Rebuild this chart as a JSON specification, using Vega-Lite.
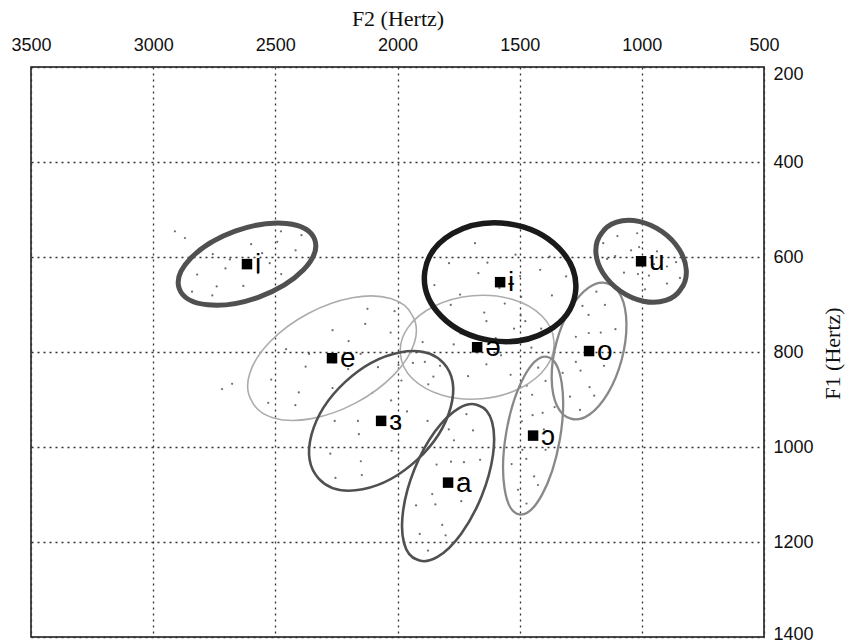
{
  "$schema": "https://vega.github.io/schema/vega-lite/v6.json",
  "width": 733,
  "height": 570,
  "autosize": "none",
  "padding": {"left": 31, "top": 67, "right": 83, "bottom": 7},
  "background": "white",
  "config": {"view": {"stroke": "#111", "strokeWidth": 1.5}},
  "datasets": {
    "tokens": [
      {"vowel":"i","F2":2611,"F1":622},{"vowel":"i","F2":2523,"F1":613},{"vowel":"i","F2":2704,"F1":624},{"vowel":"i","F2":2492,"F1":568},{"vowel":"i","F2":2740,"F1":662},{"vowel":"i","F2":2417,"F1":586},{"vowel":"i","F2":2820,"F1":637},{"vowel":"i","F2":2599,"F1":573},{"vowel":"i","F2":2631,"F1":661},{"vowel":"i","F2":2476,"F1":636},{"vowel":"i","F2":2756,"F1":594},{"vowel":"i","F2":2393,"F1":554},{"vowel":"i","F2":2841,"F1":673},{"vowel":"i","F2":2477,"F1":546},{"vowel":"i","F2":2758,"F1":681},{"vowel":"i","F2":2571,"F1":634},{"vowel":"i","F2":2686,"F1":605},{"vowel":"i","F2":2554,"F1":592},{"vowel":"i","F2":2911,"F1":546},{"vowel":"i","F2":2870,"F1":560},
      {"vowel":"ɨ","F2":1583,"F1":665},{"vowel":"ɨ","F2":1494,"F1":684},{"vowel":"ɨ","F2":1669,"F1":634},{"vowel":"ɨ","F2":1416,"F1":627},{"vowel":"ɨ","F2":1744,"F1":679},{"vowel":"ɨ","F2":1368,"F1":681},{"vowel":"ɨ","F2":1789,"F1":613},{"vowel":"ɨ","F2":1517,"F1":595},{"vowel":"ɨ","F2":1645,"F1":717},{"vowel":"ɨ","F2":1477,"F1":735},{"vowel":"ɨ","F2":1683,"F1":571},{"vowel":"ɨ","F2":1310,"F1":641},{"vowel":"ɨ","F2":1849,"F1":659},{"vowel":"ɨ","F2":1377,"F1":599},{"vowel":"ɨ","F2":1782,"F1":701},{"vowel":"ɨ","F2":1561,"F1":698},{"vowel":"ɨ","F2":1632,"F1":612},{"vowel":"ɨ","F2":1498,"F1":640},
      {"vowel":"u","F2":1011,"F1":615},{"vowel":"u","F2":971,"F1":639},{"vowel":"u","F2":1044,"F1":586},{"vowel":"u","F2":897,"F1":620},{"vowel":"u","F2":1109,"F1":598},{"vowel":"u","F2":897,"F1":656},{"vowel":"u","F2":1100,"F1":556},{"vowel":"u","F2":938,"F1":588},{"vowel":"u","F2":1073,"F1":633},{"vowel":"u","F2":987,"F1":668},{"vowel":"u","F2":1019,"F1":550},{"vowel":"u","F2":844,"F1":644},{"vowel":"u","F2":1158,"F1":571},{"vowel":"u","F2":860,"F1":611},{"vowel":"u","F2":1142,"F1":604},{"vowel":"u","F2":1016,"F1":636},{"vowel":"u","F2":1011,"F1":579},{"vowel":"u","F2":950,"F1":615},
      {"vowel":"ə","F2":1672,"F1":801},{"vowel":"ə","F2":1576,"F1":807},{"vowel":"ə","F2":1770,"F1":784},{"vowel":"ə","F2":1523,"F1":751},{"vowel":"ə","F2":1826,"F1":829},{"vowel":"ə","F2":1452,"F1":791},{"vowel":"ə","F2":1897,"F1":779},{"vowel":"ə","F2":1636,"F1":735},{"vowel":"ə","F2":1711,"F1":851},{"vowel":"ə","F2":1537,"F1":848},{"vowel":"ə","F2":1811,"F1":732},{"vowel":"ə","F2":1412,"F1":751},{"vowel":"ə","F2":1937,"F1":823},{"vowel":"ə","F2":1496,"F1":723},{"vowel":"ə","F2":1853,"F1":852},{"vowel":"ə","F2":1636,"F1":826},{"vowel":"ə","F2":1742,"F1":761},{"vowel":"ə","F2":1598,"F1":771},
      {"vowel":"o","F2":1203,"F1":800},{"vowel":"o","F2":1168,"F1":759},{"vowel":"o","F2":1251,"F1":839},{"vowel":"o","F2":1218,"F1":722},{"vowel":"o","F2":1214,"F1":874},{"vowel":"o","F2":1151,"F1":701},{"vowel":"o","F2":1294,"F1":894},{"vowel":"o","F2":1270,"F1":768},{"vowel":"o","F2":1155,"F1":829},{"vowel":"o","F2":1108,"F1":752},{"vowel":"o","F2":1324,"F1":844},{"vowel":"o","F2":1186,"F1":673},{"vowel":"o","F2":1253,"F1":922},{"vowel":"o","F2":1243,"F1":703},{"vowel":"o","F2":1195,"F1":892},{"vowel":"o","F2":1163,"F1":790},{"vowel":"o","F2":1270,"F1":821},{"vowel":"o","F2":1217,"F1":760},
      {"vowel":"e","F2":2259,"F1":822},{"vowel":"e","F2":2151,"F1":804},{"vowel":"e","F2":2376,"F1":831},{"vowel":"e","F2":2132,"F1":741},{"vowel":"e","F2":2404,"F1":885},{"vowel":"e","F2":2028,"F1":759},{"vowel":"e","F2":2517,"F1":858},{"vowel":"e","F2":2266,"F1":754},{"vowel":"e","F2":2266,"F1":876},{"vowel":"e","F2":2080,"F1":832},{"vowel":"e","F2":2456,"F1":794},{"vowel":"e","F2":2012,"F1":714},{"vowel":"e","F2":2529,"F1":907},{"vowel":"e","F2":2123,"F1":709},{"vowel":"e","F2":2418,"F1":912},{"vowel":"e","F2":2202,"F1":836},{"vowel":"e","F2":2362,"F1":804},{"vowel":"e","F2":2200,"F1":777},{"vowel":"e","F2":2677,"F1":867},{"vowel":"e","F2":2718,"F1":878},
      {"vowel":"ɜ","F2":2052,"F1":953},{"vowel":"ɜ","F2":1961,"F1":925},{"vowel":"ɜ","F2":2158,"F1":973},{"vowel":"ɜ","F2":1984,"F1":860},{"vowel":"ɜ","F2":2150,"F1":1030},{"vowel":"ɜ","F2":1874,"F1":868},{"vowel":"ɜ","F2":2275,"F1":1014},{"vowel":"ɜ","F2":2103,"F1":886},{"vowel":"ɜ","F2":2024,"F1":1008},{"vowel":"ɜ","F2":1877,"F1":945},{"vowel":"ɜ","F2":2257,"F1":945},{"vowel":"ɜ","F2":1888,"F1":821},{"vowel":"ɜ","F2":2254,"F1":1065},{"vowel":"ɜ","F2":1996,"F1":827},{"vowel":"ɜ","F2":2146,"F1":1059},{"vowel":"ɜ","F2":1990,"F1":961},{"vowel":"ɜ","F2":2162,"F1":945},{"vowel":"ɜ","F2":2026,"F1":902},
      {"vowel":"a","F2":1780,"F1":1078},{"vowel":"a","F2":1728,"F1":1032},{"vowel":"a","F2":1845,"F1":1121},{"vowel":"a","F2":1769,"F1":986},{"vowel":"a","F2":1817,"F1":1164},{"vowel":"a","F2":1691,"F1":965},{"vowel":"a","F2":1909,"F1":1183},{"vowel":"a","F2":1840,"F1":1037},{"vowel":"a","F2":1739,"F1":1114},{"vowel":"a","F2":1662,"F1":1027},{"vowel":"a","F2":1924,"F1":1123},{"vowel":"a","F2":1718,"F1":931},{"vowel":"a","F2":1875,"F1":1218},{"vowel":"a","F2":1790,"F1":963},{"vowel":"a","F2":1803,"F1":1186},{"vowel":"a","F2":1734,"F1":1069},{"vowel":"a","F2":1858,"F1":1099},{"vowel":"a","F2":1781,"F1":1031},
      {"vowel":"ɔ","F2":1434,"F1":977},{"vowel":"ɔ","F2":1406,"F1":928},{"vowel":"ɔ","F2":1473,"F1":1025},{"vowel":"ɔ","F2":1449,"F1":890},{"vowel":"ɔ","F2":1441,"F1":1062},{"vowel":"ɔ","F2":1394,"F1":861},{"vowel":"ɔ","F2":1507,"F1":1090},{"vowel":"ɔ","F2":1491,"F1":946},{"vowel":"ɔ","F2":1394,"F1":1006},{"vowel":"ɔ","F2":1357,"F1":916},{"vowel":"ɔ","F2":1533,"F1":1036},{"vowel":"ɔ","F2":1424,"F1":833},{"vowel":"ɔ","F2":1472,"F1":1119},{"vowel":"ɔ","F2":1471,"F1":871},{"vowel":"ɔ","F2":1425,"F1":1080},{"vowel":"ɔ","F2":1401,"F1":963},{"vowel":"ɔ","F2":1489,"F1":1006},{"vowel":"ɔ","F2":1447,"F1":933}
    ],
    "means": [
      {"vowel":"i","F2":2616,"F1":615},
      {"vowel":"ɨ","F2":1580,"F1":653},
      {"vowel":"u","F2":1003,"F1":609},
      {"vowel":"e","F2":2268,"F1":813},
      {"vowel":"ə","F2":1674,"F1":790},
      {"vowel":"o","F2":1216,"F1":798},
      {"vowel":"ɜ","F2":2067,"F1":945},
      {"vowel":"a","F2":1793,"F1":1075},
      {"vowel":"ɔ","F2":1445,"F1":976}
    ]
  },
  "encoding": {
    "x": {
      "field": "F2", "type": "quantitative",
      "scale": {"domain": [500, 3500], "reverse": true, "nice": false, "zero": false},
      "axis": {
        "orient": "top", "title": "F2 (Hertz)", "values": [3500, 3000, 2500, 2000, 1500, 1000, 500], "format": "d",
        "titleFont": "Liberation Serif", "titleFontSize": 22, "titleFontWeight": "normal", "titleColor": "#111", "titlePadding": 6,
        "labelFont": "Liberation Sans", "labelFontSize": 18, "labelColor": "#111", "labelPadding": 13, "labelFlush": false,
        "ticks": false, "domain": false,
        "grid": true, "gridDash": [2, 4], "gridColor": "#333", "gridWidth": 1.3
      }
    },
    "y": {
      "field": "F1", "type": "quantitative",
      "scale": {"domain": [200, 1400], "reverse": true, "nice": false, "zero": false},
      "axis": {
        "orient": "right", "title": "F1 (Hertz)", "values": [200, 400, 600, 800, 1000, 1200, 1400], "format": "d",
        "titleFont": "Liberation Serif", "titleFontSize": 22, "titleFontWeight": "normal", "titleColor": "#111",
        "titleAngle": 270, "titleX": 68, "titleY": 286, "titleAlign": "center", "titleBaseline": "middle",
        "labelFont": "Liberation Sans", "labelFontSize": 18, "labelColor": "#111", "labelPadding": 9, "labelFlush": false,
        "labelOffset": {"condition": [{"test": "datum.value === 200", "value": 7}, {"test": "datum.value === 1400", "value": -3}], "value": 0},
        "ticks": false, "domain": false,
        "grid": true, "gridDash": [2, 4], "gridColor": "#333", "gridWidth": 1.3
      }
    }
  },
  "layer": [
    {
      "data": {"name": "tokens"},
      "mark": {"type": "circle", "size": 5, "color": "#555", "opacity": 0.85}
    },
    {
      "data": {"name": "means"},
      "transform": [{"filter": {"field": "vowel", "oneOf": ["e", "ə"]}}],
      "mark": {"type": "point", "filled": false, "size": 4, "color": "#acacac", "strokeWidth": 1.6, "opacity": 1},
      "encoding": {"shape": {"field": "vowel", "type": "nominal", "legend": null, "scale": {
        "domain": ["i","ɨ","u","e","ə","o","ɜ","a","ɔ"],
        "range": [
          "M67.7,-24.6A72,35,-20,1,1,-67.7,24.6A72,35,-20,1,1,67.7,-24.6Z",
          "M75.3,10.6A76,59,8,1,1,-75.3,-10.6A76,59,8,1,1,75.3,10.6Z",
          "M39.7,27.8A48.5,35,35,1,1,-39.7,-27.8A48.5,35,35,1,1,39.7,27.8Z",
          "M80.3,-42.7A91,49,-28,1,1,-80.3,42.7A91,49,-28,1,1,80.3,-42.7Z",
          "M76.7,-6.7A77,51,-5,1,1,-76.7,6.7A77,51,-5,1,1,76.7,-6.7Z",
          "M18.1,-67.6A70,33,-75,1,1,-18.1,67.6A70,33,-75,1,1,18.1,-67.6Z",
          "M62.2,-58A85,53,-43,1,1,-62.2,58A85,53,-43,1,1,62.2,-58Z",
          "M31.1,-76.9A83,35,-68,1,1,-31.1,76.9A83,35,-68,1,1,31.1,-76.9Z",
          "M13.9,-78.8A80,27,-80,1,1,-13.9,78.8A80,27,-80,1,1,13.9,-78.8Z"
        ]}}}
    },
    {
      "data": {"name": "means"},
      "transform": [{"filter": {"field": "vowel", "oneOf": ["o", "ɔ"]}}],
      "mark": {"type": "point", "filled": false, "size": 4, "color": "#888888", "strokeWidth": 2.3, "opacity": 1},
      "encoding": {"shape": {"field": "vowel", "type": "nominal", "legend": null, "scale": {
        "domain": ["i","ɨ","u","e","ə","o","ɜ","a","ɔ"],
        "range": [
          "M67.7,-24.6A72,35,-20,1,1,-67.7,24.6A72,35,-20,1,1,67.7,-24.6Z",
          "M75.3,10.6A76,59,8,1,1,-75.3,-10.6A76,59,8,1,1,75.3,10.6Z",
          "M39.7,27.8A48.5,35,35,1,1,-39.7,-27.8A48.5,35,35,1,1,39.7,27.8Z",
          "M80.3,-42.7A91,49,-28,1,1,-80.3,42.7A91,49,-28,1,1,80.3,-42.7Z",
          "M76.7,-6.7A77,51,-5,1,1,-76.7,6.7A77,51,-5,1,1,76.7,-6.7Z",
          "M18.1,-67.6A70,33,-75,1,1,-18.1,67.6A70,33,-75,1,1,18.1,-67.6Z",
          "M62.2,-58A85,53,-43,1,1,-62.2,58A85,53,-43,1,1,62.2,-58Z",
          "M31.1,-76.9A83,35,-68,1,1,-31.1,76.9A83,35,-68,1,1,31.1,-76.9Z",
          "M13.9,-78.8A80,27,-80,1,1,-13.9,78.8A80,27,-80,1,1,13.9,-78.8Z"
        ]}}}
    },
    {
      "data": {"name": "means"},
      "transform": [{"filter": {"field": "vowel", "oneOf": ["ɜ", "a"]}}],
      "mark": {"type": "point", "filled": false, "size": 4, "color": "#505050", "strokeWidth": 2.6, "opacity": 1},
      "encoding": {"shape": {"field": "vowel", "type": "nominal", "legend": null, "scale": {
        "domain": ["i","ɨ","u","e","ə","o","ɜ","a","ɔ"],
        "range": [
          "M67.7,-24.6A72,35,-20,1,1,-67.7,24.6A72,35,-20,1,1,67.7,-24.6Z",
          "M75.3,10.6A76,59,8,1,1,-75.3,-10.6A76,59,8,1,1,75.3,10.6Z",
          "M39.7,27.8A48.5,35,35,1,1,-39.7,-27.8A48.5,35,35,1,1,39.7,27.8Z",
          "M80.3,-42.7A91,49,-28,1,1,-80.3,42.7A91,49,-28,1,1,80.3,-42.7Z",
          "M76.7,-6.7A77,51,-5,1,1,-76.7,6.7A77,51,-5,1,1,76.7,-6.7Z",
          "M18.1,-67.6A70,33,-75,1,1,-18.1,67.6A70,33,-75,1,1,18.1,-67.6Z",
          "M62.2,-58A85,53,-43,1,1,-62.2,58A85,53,-43,1,1,62.2,-58Z",
          "M31.1,-76.9A83,35,-68,1,1,-31.1,76.9A83,35,-68,1,1,31.1,-76.9Z",
          "M13.9,-78.8A80,27,-80,1,1,-13.9,78.8A80,27,-80,1,1,13.9,-78.8Z"
        ]}}}
    },
    {
      "data": {"name": "means"},
      "transform": [{"filter": {"field": "vowel", "oneOf": ["i", "u"]}}],
      "mark": {"type": "point", "filled": false, "size": 4, "color": "#505050", "strokeWidth": 5, "opacity": 1},
      "encoding": {"shape": {"field": "vowel", "type": "nominal", "legend": null, "scale": {
        "domain": ["i","ɨ","u","e","ə","o","ɜ","a","ɔ"],
        "range": [
          "M67.7,-24.6A72,35,-20,1,1,-67.7,24.6A72,35,-20,1,1,67.7,-24.6Z",
          "M75.3,10.6A76,59,8,1,1,-75.3,-10.6A76,59,8,1,1,75.3,10.6Z",
          "M39.7,27.8A48.5,35,35,1,1,-39.7,-27.8A48.5,35,35,1,1,39.7,27.8Z",
          "M80.3,-42.7A91,49,-28,1,1,-80.3,42.7A91,49,-28,1,1,80.3,-42.7Z",
          "M76.7,-6.7A77,51,-5,1,1,-76.7,6.7A77,51,-5,1,1,76.7,-6.7Z",
          "M18.1,-67.6A70,33,-75,1,1,-18.1,67.6A70,33,-75,1,1,18.1,-67.6Z",
          "M62.2,-58A85,53,-43,1,1,-62.2,58A85,53,-43,1,1,62.2,-58Z",
          "M31.1,-76.9A83,35,-68,1,1,-31.1,76.9A83,35,-68,1,1,31.1,-76.9Z",
          "M13.9,-78.8A80,27,-80,1,1,-13.9,78.8A80,27,-80,1,1,13.9,-78.8Z"
        ]}}}
    },
    {
      "data": {"name": "means"},
      "transform": [{"filter": {"field": "vowel", "oneOf": ["ɨ"]}}],
      "mark": {"type": "point", "filled": false, "size": 4, "color": "#1a1a1a", "strokeWidth": 5.5, "opacity": 1},
      "encoding": {"shape": {"field": "vowel", "type": "nominal", "legend": null, "scale": {
        "domain": ["i","ɨ","u","e","ə","o","ɜ","a","ɔ"],
        "range": [
          "M67.7,-24.6A72,35,-20,1,1,-67.7,24.6A72,35,-20,1,1,67.7,-24.6Z",
          "M75.3,10.6A76,59,8,1,1,-75.3,-10.6A76,59,8,1,1,75.3,10.6Z",
          "M39.7,27.8A48.5,35,35,1,1,-39.7,-27.8A48.5,35,35,1,1,39.7,27.8Z",
          "M80.3,-42.7A91,49,-28,1,1,-80.3,42.7A91,49,-28,1,1,80.3,-42.7Z",
          "M76.7,-6.7A77,51,-5,1,1,-76.7,6.7A77,51,-5,1,1,76.7,-6.7Z",
          "M18.1,-67.6A70,33,-75,1,1,-18.1,67.6A70,33,-75,1,1,18.1,-67.6Z",
          "M62.2,-58A85,53,-43,1,1,-62.2,58A85,53,-43,1,1,62.2,-58Z",
          "M31.1,-76.9A83,35,-68,1,1,-31.1,76.9A83,35,-68,1,1,31.1,-76.9Z",
          "M13.9,-78.8A80,27,-80,1,1,-13.9,78.8A80,27,-80,1,1,13.9,-78.8Z"
        ]}}}
    },
    {
      "data": {"name": "means"},
      "mark": {"type": "square", "size": 110, "color": "#000", "opacity": 1}
    },
    {
      "data": {"name": "means"},
      "mark": {"type": "text", "align": "left", "baseline": "alphabetic", "dx": 8, "dy": 9, "fontSize": 28, "font": "Liberation Sans, DejaVu Sans, sans-serif", "color": "#000"},
      "encoding": {"text": {"field": "vowel", "type": "nominal"}}
    }
  ]
}
